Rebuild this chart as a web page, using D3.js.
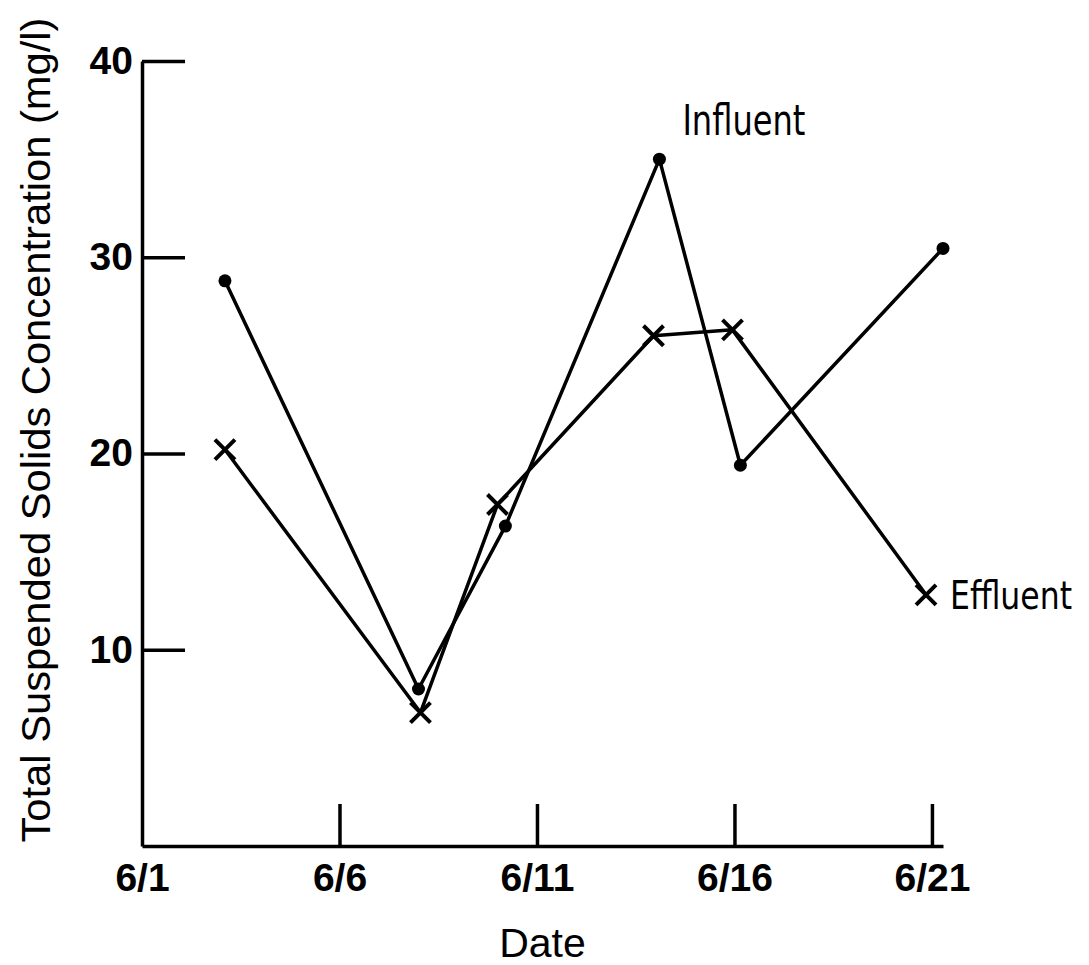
<!DOCTYPE html>
<html>
<head>
<meta charset="utf-8">
<script src="https://cdn.jsdelivr.net/npm/d3@7"></script>
<style>
  html, body { margin: 0; padding: 0; background: #fff; }
  svg { display: block; }
</style>
</head>
<body>
<svg id="chart" width="1089" height="965"></svg>
<script>
// Sampling days in June (day of month) and TSS concentrations in mg/l
const influentDays   = [3.1, 8.0, 10.2, 14.1, 16.15, 21.28];
const influentValues = [28.8, 8.0, 16.3, 35.0, 19.4, 30.45];

const effluentDays   = [3.1, 8.05, 10.0, 13.95, 15.95, 20.85];
const effluentValues = [20.2, 6.8, 17.4, 26.0, 26.3, 12.8];

const dateTickDays   = [1, 6, 11, 16, 21];
const dateTickLabels = ["6/1", "6/6", "6/11", "6/16", "6/21"];
const concTicks      = [10, 20, 30, 40];

const svg = d3.select("#chart");
const ink = "#000";

const x = d3.scaleLinear().domain([1, 21.28]).range([142, 943]);
const y = d3.scaleLinear().domain([0, 40]).range([846, 61]);

const boldFont = "'Liberation Sans', Arial, sans-serif";
const narrowFont = "'Liberation Sans Narrow', 'Arial Narrow', 'DejaVu Sans Condensed', sans-serif";

// Vertical axis: ticks point into the plot
const yAxis = d3.axisLeft(y)
  .tickValues(concTicks)
  .tickSizeInner(-43)
  .tickSizeOuter(0)
  .tickPadding(9)
  .tickFormat(d3.format("d"));

const gy = svg.append("g")
  .attr("transform", `translate(${x(1)},0)`)
  .call(yAxis);

// Horizontal axis: ticks stand up from the baseline
const xAxis = d3.axisBottom(x)
  .tickValues(dateTickDays)
  .tickSizeInner(-42)
  .tickSizeOuter(0)
  .tickPadding(17)
  .tickFormat((d, i) => dateTickLabels[i]);

const gx = svg.append("g")
  .attr("transform", `translate(0,${y(0)})`)
  .call(xAxis);

[gx, gy].forEach(g => {
  g.selectAll(".domain, .tick line")
    .attr("stroke", ink)
    .attr("stroke-width", 3.5);
  g.selectAll(".tick text")
    .attr("fill", ink)
    .style("font-family", boldFont)
    .style("font-weight", "bold")
    .style("font-size", "39px");
});
gx.select(".tick:first-of-type line").remove();

// Axis titles
svg.append("text")
  .attr("x", (x.range()[0] + x.range()[1]) / 2)
  .attr("y", 957)
  .attr("text-anchor", "middle")
  .attr("fill", ink)
  .style("font-family", boldFont)
  .style("font-size", "41px")
  .text("Date");

svg.append("text")
  .attr("transform", "translate(50,430) rotate(-90)")
  .attr("text-anchor", "middle")
  .attr("textLength", 825)
  .attr("lengthAdjust", "spacingAndGlyphs")
  .attr("fill", ink)
  .style("font-family", boldFont)
  .style("font-size", "41px")
  .text("Total Suspended Solids Concentration (mg/l)");

// Series
const influent = influentDays.map((d, i) => ({ day: d, value: influentValues[i] }));
const effluent = effluentDays.map((d, i) => ({ day: d, value: effluentValues[i] }));

const line = d3.line().x(d => x(d.day)).y(d => y(d.value));

[influent, effluent].forEach(series => {
  svg.append("path")
    .datum(series)
    .attr("d", line)
    .attr("fill", "none")
    .attr("stroke", ink)
    .attr("stroke-width", 3.5)
    .attr("stroke-linejoin", "round");
});

// Influent markers: filled dots
svg.append("g").selectAll("circle")
  .data(influent)
  .join("circle")
  .attr("cx", d => x(d.day))
  .attr("cy", d => y(d.value))
  .attr("r", 6.5)
  .attr("fill", ink);

// Effluent markers: crosses
const h = 10;
svg.append("g").selectAll("path")
  .data(effluent)
  .join("path")
  .attr("d", d => {
    const cx = x(d.day), cy = y(d.value);
    return `M${cx - h},${cy - h}L${cx + h},${cy + h}M${cx - h},${cy + h}L${cx + h},${cy - h}`;
  })
  .attr("stroke", ink)
  .attr("stroke-width", 4)
  .attr("fill", "none");

// Series labels next to their end / peak points
const peak = influent[3];
svg.append("text")
  .attr("x", x(peak.day) + 23)
  .attr("y", y(peak.value) - 24)
  .attr("textLength", 123)
  .attr("lengthAdjust", "spacingAndGlyphs")
  .attr("fill", ink)
  .style("font-family", narrowFont)
  .style("font-size", "42px")
  .text("Influent");

const last = effluent[effluent.length - 1];
svg.append("text")
  .attr("x", x(last.day) + 24)
  .attr("y", y(last.value) + 14)
  .attr("textLength", 122)
  .attr("lengthAdjust", "spacingAndGlyphs")
  .attr("fill", ink)
  .style("font-family", narrowFont)
  .style("font-size", "39px")
  .text("Effluent");
</script>
</body>
</html>
